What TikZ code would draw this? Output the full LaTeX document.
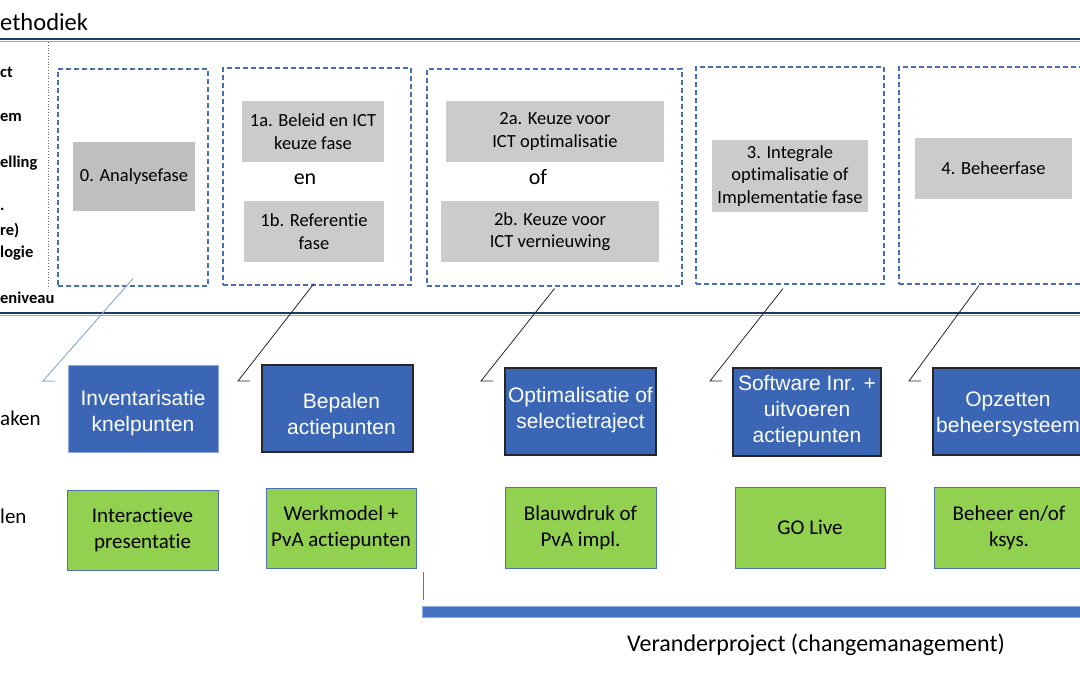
\documentclass[tikz,border=0pt]{standalone}
\usepackage{fontspec}
\setmainfont{Carlito}[Ligatures=NoCommon]
\newfontfamily\arialf{Liberation Sans}
\usetikzlibrary{calc}
\definecolor{navy}{HTML}{1F3864}
\definecolor{lightline}{HTML}{8FAADC}
\definecolor{dashblue}{HTML}{4A6FB0}
\definecolor{taskblue}{HTML}{3A66B5}
\definecolor{greenbox}{HTML}{92D050}
\definecolor{grayA}{HTML}{BFBFBF}
\definecolor{grayB}{HTML}{CBCBCB}
\definecolor{barblue}{HTML}{4472C4}
\definecolor{greenedge}{HTML}{4F72B0}
\begin{document}
\begin{tikzpicture}[x=1pt,y=-1pt,
  phasebox/.style={draw=dashblue, dash pattern=on 5pt off 3pt, line width=1.1pt, rectangle, inner sep=0pt},
  graybox/.style={fill=grayB, rectangle, inner sep=0pt, align=center, font=\fontsize{18.5}{22.5}\selectfont},
  taskbox/.style={fill=taskblue, draw=black!85, line width=1.1pt, rectangle, inner sep=0pt},
  tasktext/.style={inner sep=0pt, align=center, text=white, font=\arialf\fontsize{21}{26}\selectfont},
  resbox/.style={fill=greenbox, draw=greenedge, line width=1pt, rectangle, inner sep=0pt, align=center, font=\fontsize{21}{26}\selectfont},
  sidelabel/.style={anchor=west, inner sep=0pt, font=\bfseries\fontsize{16.5}{18}\selectfont},
  rowlabel/.style={anchor=west, inner sep=0pt, font=\fontsize{21}{24}\selectfont},
  link/.style={line width=0.8pt, draw=black!85},
  conj/.style={inner sep=0pt, font=\fontsize{22}{24}\selectfont}
]
\useasboundingbox (0,0) rectangle (1080,675);

% title and rules
\node[anchor=base west, inner sep=0pt, font=\fontsize{24.5}{28}\selectfont] (title) at (0,30) {ethodiek};
\draw[navy, line width=2pt] (0,39) -- (1080,39);
\draw[lightline, line width=0.8pt] (0,41) -- (1080,41);
\draw[navy, line width=2pt] (0,313) -- (1080,313);
\draw[lightline, line width=0.8pt] (0,315.2) -- (1080,315.2);
\draw[black!60, dotted, line width=0.8pt] (48,42) -- (48,286);

% side labels
\node[sidelabel] (l1) at (0,72) {ct};
\node[sidelabel] (l2) at (0,117) {em};
\node[sidelabel] (l3) at (0,163) {elling};
\node[sidelabel] (l4) at (0,209) {.};
\node[sidelabel] (l5) at (0,231) {re)};
\node[sidelabel] (l6) at (0,253) {logie};
\node[sidelabel] (l7) at (0,298) {eniveau};
\node[rowlabel] (r1) at (0,418) {aken};
\node[rowlabel] (r2) at (0,516) {len};

% phase boxes
\node[phasebox, minimum width=150, minimum height=217] (p0) at (133,177.5) {};
\node[phasebox, minimum width=188, minimum height=217] (p1) at (317,176.5) {};
\node[phasebox, minimum width=255, minimum height=217] (p2) at (554.5,177.5) {};
\node[phasebox, minimum width=188, minimum height=217] (p3) at (790,175.5) {};
\node[phasebox, minimum width=188, minimum height=217] (p4) at (993,175.5) {};

% gray phase labels
\node[graybox, fill=grayA, minimum width=122, minimum height=69] (a0) at (134,176.5) {0. Analysefase};
\node[graybox, minimum width=142, minimum height=61] (a1a) at (313,131.5) {1a. Beleid en ICT\\keuze fase};
\node[conj] (en) at (305,179) {en};
\node[graybox, minimum width=140, minimum height=61] (a1b) at (314,231.5) {1b. Referentie\\fase};
\node[graybox, minimum width=218, minimum height=61] (a2a) at (555,131.5) {2a. Keuze voor\\ICT optimalisatie};
\node[conj] (of) at (538,177) {of};
\node[graybox, minimum width=218, minimum height=61] (a2b) at (550,231.5) {2b. Keuze voor\\ICT vernieuwing};
\node[graybox, minimum width=156, minimum height=72] (a3) at (790,176) {3. Integrale\\optimalisatie of\\Implementatie fase};
\node[graybox, minimum width=157, minimum height=61] (a4) at (993.5,168.5) {4. Beheerfase};

% task boxes
\node[taskbox, draw=lightline, line width=1pt, minimum width=150, minimum height=87] (b0) at (143,408.5) {};
\node[taskbox, minimum width=151, minimum height=87] (b1) at (337.5,408.5) {};
\node[taskbox, minimum width=151, minimum height=87] (b2) at (580.5,411.5) {};
\node[taskbox, minimum width=148, minimum height=88] (b3) at (807,412) {};
\node[taskbox, minimum width=150, minimum height=87] (b4) at (1008,411.5) {};
\node[tasktext] (t0) at ($(b0.center)+(0,5)$) {Inventarisatie\\knelpunten};
\node[tasktext] (t1) at ($(b1.center)+(4,8)$) {Bepalen\\actiepunten};
\node[tasktext] (t2) at ($(b2.center)+(0,-1)$) {Optimalisatie of\\selectietraject};
\node[tasktext] (t3) at ($(b3.center)+(0,-1)$) {Software Inr. +\\uitvoeren\\actiepunten};
\node[tasktext] (t4) at ($(b4.center)+(0,3)$) {Opzetten\\beheersysteem};

% result boxes
\node[resbox, minimum width=151, minimum height=80] (g0) at (142.5,530) {Interactieve\\presentatie};
\node[resbox, minimum width=150, minimum height=80] (g1) at (341,528) {Werkmodel +\\PvA actiepunten};
\node[resbox, minimum width=151, minimum height=81] (g2) at (580.5,527.5) {Blauwdruk of\\PvA impl.};
\node[resbox, minimum width=150, minimum height=81] (g3) at (810,527.5) {GO Live};
\node[resbox, minimum width=150, minimum height=81] (g4) at (1009,527.5) {Beheer en/of\\ksys.};

% connectors
\coordinate (c0) at (43,381);
\coordinate (c1) at (238,381);
\coordinate (c2) at (481,381);
\coordinate (c3) at (710,381);
\coordinate (c4) at (909,381);
\draw[link, draw=lightline, line width=1pt] ($(p0.south)+(0,-8)$) -- (c0) -- ++(12,0);
\draw[link] ($(p1.south)+(-3,-2)$) -- (c1) -- ++(12,0);
\draw[link] ($(p2.south)+(0,2)$) -- (c2) -- ++(12,0);
\draw[link] ($(p3.south)+(-7,4)$) -- (c3) -- ++(12,0);
\draw[link] ($(p4.south)+(-14,1)$) -- (c4) -- ++(12,0);

% change project bar
\node[fill=barblue, draw=lightline, line width=0.8pt, rectangle, inner sep=0pt, minimum width=668, minimum height=11, anchor=north west] (bar) at (422,606) {};
\coordinate (vt) at (423,572);
\draw[black!55, line width=0.8pt] (vt) -- ($(bar.north west)+(1,-6)$);
\node[inner sep=0pt, font=\fontsize{24}{27}\selectfont] (chg) at (816,645) {Veranderproject (changemanagement)};
\end{tikzpicture}
\end{document}
